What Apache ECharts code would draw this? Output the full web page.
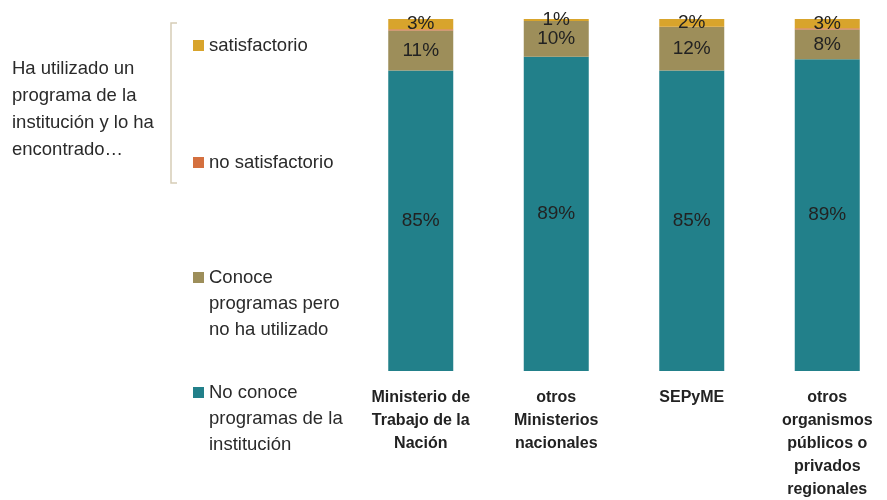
<!DOCTYPE html>
<html>
<head>
<meta charset="utf-8">
<script src="https://cdn.jsdelivr.net/npm/echarts@6/dist/echarts.min.js"></script>
<style>
html,body{margin:0;padding:0;background:#fff;}
#c{width:887px;height:500px;}
</style>
</head>
<body>
<div id="c"></div>
<script>
const categories = ['Ministerio de\nTrabajo de la\nNación', 'otros\nMinisterios\nnacionales', 'SEPyME', 'otros\norganismos\npúblicos o\nprivados\nregionales'];
const noConoce = [85.4, 89.3, 85.4, 88.6];
const conoceNoUtilizado = [11.3, 10.1, 12.3, 8.4];
const noSatisfactorio = [0.4, 0, 0.1, 0.4];
const satisfactorio = [2.9, 0.6, 2.2, 2.6];
const seriesNames = ['No conoce\nprogramas de la\ninstitución', 'Conoce\nprogramas pero\nno ha utilizado', 'no satisfactorio', 'satisfactorio'];
const groupText = 'Ha utilizado un\nprograma de la\ninstitución y lo ha\nencontrado…';

const colors = ['#22808a', '#9d8e5a', '#d4703f', '#d8a42c'];
const FONT = '"Liberation Sans", Arial, sans-serif';
const LH = 26;
const TXT = '#2a2a2a';

function mkSeries(name, data, color, showLabel) {
  return {
    name: name, type: 'bar', stack: 'total', data: data, barWidth: 65,
    itemStyle: { color: color },
    label: {
      show: showLabel, position: 'inside', color: '#222', fontSize: 19, fontFamily: FONT,
      formatter: p => Math.round(p.value) + '%'
    }
  };
}

function mkLegend(name, iconTop) {
  const lines = name.split('\n').length;
  const extra = lines - 1; // blank lines prepended so first text line sits beside the icon
  const total = lines + extra;
  return {
    data: [name], left: 193, top: iconTop + 5.5 - total * LH / 2,
    orient: 'vertical', selectedMode: false, icon: 'rect', itemWidth: 11, itemHeight: 11, itemGap: 0, padding: 0,
    formatter: n => '\n'.repeat(extra) + n,
    textStyle: { fontSize: 18.5, fontFamily: FONT, color: TXT, lineHeight: LH }
  };
}

const chart = echarts.init(document.getElementById('c'));
chart.setOption({
  animation: false,
  title: {
    text: groupText, left: 12, top: 55, padding: 0,
    textStyle: { fontSize: 18.5, fontWeight: 'normal', fontFamily: FONT, color: TXT, lineHeight: 27 }
  },
  legend: [
    mkLegend(seriesNames[3], 40),
    mkLegend(seriesNames[2], 157),
    mkLegend(seriesNames[1], 272),
    mkLegend(seriesNames[0], 387)
  ],
  graphic: [{
    type: 'polyline', silent: true,
    shape: { points: [[177, 23], [171, 23], [171, 183], [177, 183]] },
    style: { stroke: '#d6cdb6', lineWidth: 1.5, fill: null }
  }],
  grid: { left: 353, top: 19, width: 542, bottom: 129, containLabel: false, outerBoundsMode: 'none' },
  xAxis: {
    type: 'category', data: categories,
    axisLine: { show: false }, axisTick: { show: false },
    axisLabel: { interval: 0, margin: 15, fontSize: 16, fontWeight: 'bold', fontFamily: FONT, color: '#222', lineHeight: 23, align: 'center', verticalAlign: 'top' }
  },
  yAxis: { type: 'value', min: 0, max: 100, show: false, splitLine: { show: false } },
  series: [
    mkSeries(seriesNames[0], noConoce, colors[0], true),
    mkSeries(seriesNames[1], conoceNoUtilizado, colors[1], true),
    mkSeries(seriesNames[2], noSatisfactorio, colors[2], false),
    mkSeries(seriesNames[3], satisfactorio, colors[3], true)
  ]
});
</script>
</body>
</html>
